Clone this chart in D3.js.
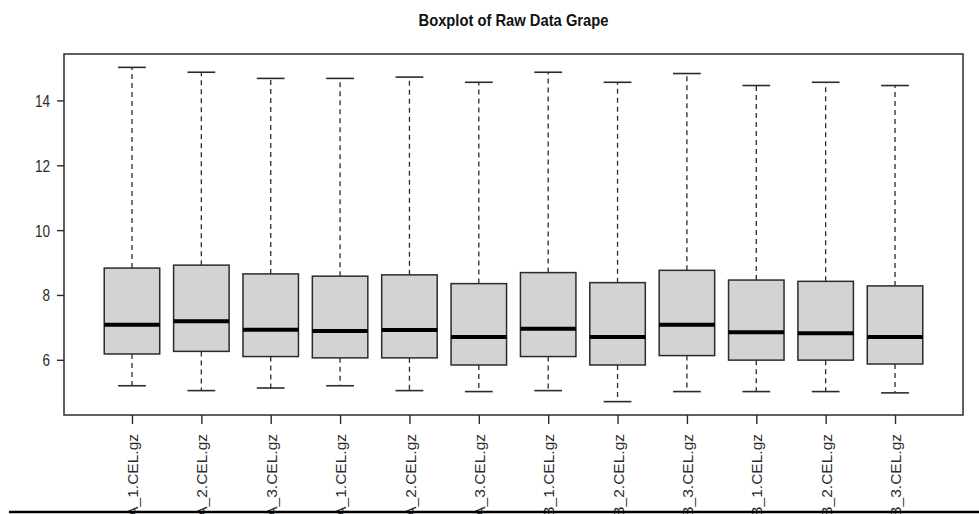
<!DOCTYPE html>
<html>
<head>
<meta charset="utf-8">
<script src="https://cdn.jsdelivr.net/npm/d3@7"></script>
<style>
  html, body { margin: 0; padding: 0; background: #fff; overflow: hidden; }
  svg { display: block; font-family: "Liberation Sans", Arial, sans-serif; }
</style>
</head>
<body>
<svg id="chart" width="979" height="514"></svg>
<script>
// Sample file names (one per array)
const samples = [
  "A_1.CEL.gz", "A_2.CEL.gz", "A_3.CEL.gz",
  "A_1.CEL.gz", "A_2.CEL.gz", "A_3.CEL.gz",
  "B_1.CEL.gz", "B_2.CEL.gz", "B_3.CEL.gz",
  "B_1.CEL.gz", "B_2.CEL.gz", "B_3.CEL.gz"
];
// Five-number summaries of log2 raw intensities
const whiskerLow  = [5.20, 5.05, 5.13, 5.20, 5.05, 5.02, 5.05, 4.71, 5.02, 5.02, 5.02, 4.98];
const quartile1   = [6.18, 6.26, 6.10, 6.06, 6.06, 5.84, 6.10, 5.84, 6.13, 5.99, 5.99, 5.87];
const medians     = [7.08, 7.19, 6.93, 6.89, 6.92, 6.70, 6.96, 6.70, 7.08, 6.85, 6.82, 6.70];
const quartile3   = [8.83, 8.92, 8.65, 8.58, 8.62, 8.35, 8.69, 8.38, 8.76, 8.46, 8.42, 8.28];
const whiskerHigh = [15.02, 14.87, 14.68, 14.68, 14.72, 14.56, 14.87, 14.56, 14.83, 14.46, 14.56, 14.46];
const yTicks = [6, 8, 10, 12, 14];
const title = "Boxplot of Raw Data Grape";

const svg = d3.select("#chart");
const plot = { left: 64, right: 963, top: 54, bottom: 415 };
const ink = "#2b2b2b";

// Axis ranges padded by 4% like base graphics
const n = samples.length;
const xPad = n * 0.04;
const x = d3.scaleLinear().domain([0.5 - xPad, n + 0.5 + xPad]).range([plot.left, plot.right]);
const lo = d3.min(whiskerLow), hi = d3.max(whiskerHigh);
const yPad = (hi - lo) * 0.04;
const y = d3.scaleLinear().domain([lo - yPad, hi + yPad]).range([plot.bottom, plot.top]);

const boxes = samples.map((s, i) => ({
  pos: i + 1,
  min: whiskerLow[i], q1: quartile1[i], med: medians[i], q3: quartile3[i], max: whiskerHigh[i]
}));

const halfW = x(1.4) - x(1);   // box half-width (boxwex 0.8)
const capW = halfW / 2;        // staple half-width

const g = svg.append("g");

// whiskers (dashed)
[["q3", "max"], ["q1", "min"]].forEach(([a, b]) => {
  g.selectAll(".whisker-" + b).data(boxes).join("line")
    .attr("x1", d => x(d.pos)).attr("x2", d => x(d.pos))
    .attr("y1", d => y(d[a])).attr("y2", d => y(d[b]))
    .attr("stroke", ink).attr("stroke-width", 1.3).attr("stroke-dasharray", "5,4");
});

// staples
["max", "min"].forEach(k => {
  g.selectAll(".cap-" + k).data(boxes).join("line")
    .attr("x1", d => x(d.pos) - capW).attr("x2", d => x(d.pos) + capW)
    .attr("y1", d => y(d[k])).attr("y2", d => y(d[k]))
    .attr("stroke", ink).attr("stroke-width", 1.6);
});

// boxes
g.selectAll(".box").data(boxes).join("rect")
  .attr("x", d => x(d.pos) - halfW)
  .attr("y", d => y(d.q3))
  .attr("width", 2 * halfW)
  .attr("height", d => y(d.q1) - y(d.q3))
  .attr("fill", "#d3d3d3").attr("stroke", ink).attr("stroke-width", 1.5);

// medians
g.selectAll(".median").data(boxes).join("line")
  .attr("x1", d => x(d.pos) - halfW).attr("x2", d => x(d.pos) + halfW)
  .attr("y1", d => y(d.med)).attr("y2", d => y(d.med))
  .attr("stroke", "#000").attr("stroke-width", 4);

// frame
svg.append("rect")
  .attr("x", plot.left).attr("y", plot.top)
  .attr("width", plot.right - plot.left).attr("height", plot.bottom - plot.top)
  .attr("fill", "none").attr("stroke", ink).attr("stroke-width", 1.5);

// y axis
const yAxis = svg.append("g")
  .attr("transform", `translate(${plot.left},0)`)
  .call(d3.axisLeft(y).tickValues(yTicks).tickSize(7).tickFormat(d3.format("d")));
yAxis.select(".domain").remove();
yAxis.selectAll(".tick line").attr("stroke", ink).attr("stroke-width", 1.4);
yAxis.selectAll(".tick text")
  .attr("fill", ink).attr("font-size", 16.5)
  .attr("transform", "scale(0.82,1)")
  .attr("x", -14 / 0.82)
  .attr("dy", "0.36em");

// x axis with rotated sample names
const xAxis = svg.append("g")
  .attr("transform", `translate(0,${plot.bottom})`)
  .call(d3.axisBottom(x).tickValues(boxes.map(d => d.pos)).tickSize(9).tickFormat((d, i) => samples[i]));
xAxis.select(".domain").remove();
xAxis.selectAll(".tick line").attr("stroke", ink).attr("stroke-width", 1.4);
xAxis.selectAll(".tick text")
  .attr("fill", ink).attr("font-size", 15.5)
  .attr("transform", "rotate(-90)")
  .attr("text-anchor", "end")
  .attr("x", -19).attr("y", 0).attr("dy", "0.36em");

// title
svg.append("text")
  .attr("x", (plot.left + plot.right) / 2).attr("y", 26)
  .attr("text-anchor", "middle")
  .attr("font-size", 16.5).attr("font-weight", "bold").attr("fill", "#111")
  .attr("textLength", 190).attr("lengthAdjust", "spacingAndGlyphs")
  .text(title);

// bottom rule
svg.append("line")
  .attr("x1", 9).attr("x2", 979).attr("y1", 512).attr("y2", 512)
  .attr("stroke", "#000").attr("stroke-width", 2.5);
</script>
</body>
</html>
